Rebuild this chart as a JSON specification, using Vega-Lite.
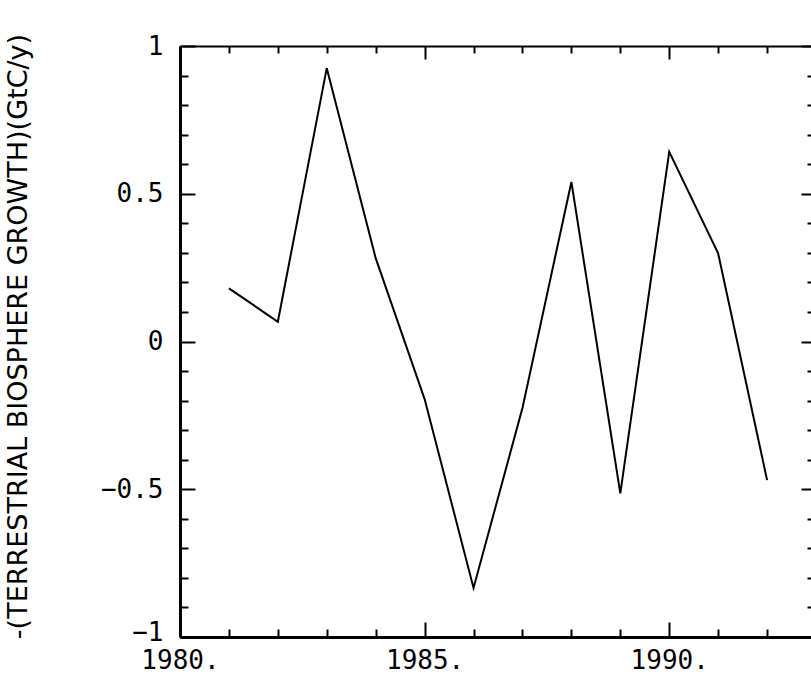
{
  "$schema": "https://vega.github.io/schema/vega-lite/v6.json",
  "autosize": {"type": "none"},
  "padding": {"left": 180, "top": 46, "right": 0, "bottom": 44},
  "width": 636,
  "height": 591,
  "background": "white",
  "config": {
    "view": {"stroke": null},
    "axis": {"grid": false, "domainColor": "black", "tickColor": "black", "labelColor": "black", "titleColor": "black", "tickWidth": 2, "title": null}
  },
  "data": {
    "values": [
      {"year": 1981, "growth": 0.18},
      {"year": 1982, "growth": 0.067},
      {"year": 1983, "growth": 0.925},
      {"year": 1984, "growth": 0.282},
      {"year": 1985, "growth": -0.195},
      {"year": 1986, "growth": -0.834},
      {"year": 1987, "growth": -0.225},
      {"year": 1988, "growth": 0.54},
      {"year": 1989, "growth": -0.514},
      {"year": 1990, "growth": 0.642},
      {"year": 1991, "growth": 0.298},
      {"year": 1992, "growth": -0.469}
    ]
  },
  "layer": [
    {
      "mark": {"type": "line", "color": "black", "strokeWidth": 2},
      "encoding": {
        "x": {
          "field": "year", "type": "quantitative",
          "scale": {"domain": [1980, 1993], "nice": false, "zero": false},
          "axis": {
            "orient": "bottom",
            "values": [1980, 1985, 1990],
            "tickSize": -15,
            "domainWidth": 3,
            "labelExpr": "datum.value + '.'",
            "labelFont": "DejaVu Sans Mono",
            "labelFontSize": 26,
            "labelPadding": 25,
            "labelFlush": false,
            "labelBaseline": "top",
            "labelOverlap": false,
            "title": null
          }
        },
        "y": {
          "field": "growth", "type": "quantitative",
          "scale": {"domain": [-1, 1], "nice": false, "zero": false},
          "axis": {
            "orient": "left",
            "values": [-1, -0.5, 0, 0.5, 1],
            "tickSize": -15,
            "domainWidth": 3,
            "labelExpr": "format(datum.value, '.1~f')",
            "labelFont": "DejaVu Sans Mono",
            "labelFontSize": 26,
            "labelPadding": 32,
            "labelFlush": false,
            "labelBaseline": "middle",
            "labelOffset": {"condition": {"test": "datum.value === -1", "value": -5}, "value": 0},
            "labelOverlap": false,
            "title": "-(TERRESTRIAL BIOSPHERE GROWTH)(GtC/y)",
            "titleFont": "DejaVu Sans",
            "titleFontSize": 27,
            "titleFontWeight": "normal",
            "titleAngle": -90,
            "titleX": -162,
            "titleY": 290,
            "titleAlign": "center",
            "titleBaseline": "middle"
          }
        }
      }
    },
    {
      "mark": {"type": "point", "opacity": 0},
      "encoding": {
        "x": {
          "field": "year", "type": "quantitative",
          "axis": {
            "orient": "bottom",
            "values": [1981, 1982, 1983, 1984, 1986, 1987, 1988, 1989, 1991, 1992],
            "tickSize": -8,
            "domain": false,
            "labels": false
          }
        },
        "y": {
          "field": "growth", "type": "quantitative",
          "axis": {
            "orient": "left",
            "values": [-0.9, -0.8, -0.7, -0.6, -0.4, -0.3, -0.2, -0.1, 0.1, 0.2, 0.3, 0.4, 0.6, 0.7, 0.8, 0.9],
            "tickSize": -8,
            "domain": false,
            "labels": false
          }
        }
      }
    },
    {
      "mark": {"type": "point", "opacity": 0},
      "encoding": {
        "x": {
          "field": "year", "type": "quantitative",
          "axis": {
            "orient": "top",
            "values": [1980, 1985, 1990],
            "tickSize": -13,
            "domainWidth": 2,
            "labels": false
          }
        },
        "y": {
          "field": "growth", "type": "quantitative",
          "axis": {
            "orient": "right",
            "values": [-1, -0.5, 0, 0.5, 1],
            "tickSize": -15,
            "domainWidth": 2,
            "labels": false
          }
        }
      }
    },
    {
      "mark": {"type": "point", "opacity": 0},
      "encoding": {
        "x": {
          "field": "year", "type": "quantitative",
          "axis": {
            "orient": "top",
            "values": [1981, 1982, 1983, 1984, 1986, 1987, 1988, 1989, 1991, 1992],
            "tickSize": -7,
            "domain": false,
            "labels": false
          }
        },
        "y": {
          "field": "growth", "type": "quantitative",
          "axis": {
            "orient": "right",
            "values": [-0.9, -0.8, -0.7, -0.6, -0.4, -0.3, -0.2, -0.1, 0.1, 0.2, 0.3, 0.4, 0.6, 0.7, 0.8, 0.9],
            "tickSize": -9,
            "domain": false,
            "labels": false
          }
        }
      }
    }
  ],
  "resolve": {"axis": {"x": "independent", "y": "independent"}}
}
